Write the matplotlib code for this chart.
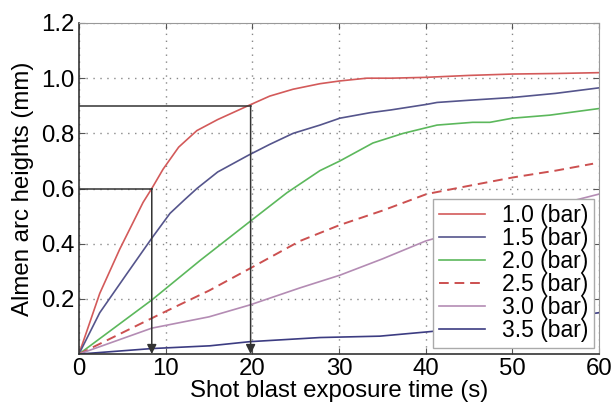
import matplotlib
matplotlib.use('Agg')
import matplotlib.pyplot as plt

plt.rcParams['font.family'] = ['Liberation Sans', 'DejaVu Sans']

# Almen arc height curves
t_10 = [0, 2.4, 4.7, 7.4, 8.4, 9.7, 11.5, 13.6, 16, 19.5, 22, 24.7, 27.8, 30.1, 33.2, 36, 40, 45, 50, 55, 60]
h_10 = [0, 0.22, 0.38, 0.55, 0.6, 0.67, 0.75, 0.81, 0.85, 0.9, 0.935, 0.96, 0.98, 0.99, 1.0, 1.0, 1.003, 1.01, 1.015, 1.017, 1.02]

t_15 = [0, 2.4, 5.5, 8.4, 10.5, 12.2, 13.6, 16, 19.5, 22, 24.7, 27.8, 30.1, 33.6, 36, 40.1, 41.3, 45, 50, 55, 60]
h_15 = [0, 0.15, 0.29, 0.42, 0.51, 0.56, 0.6, 0.66, 0.72, 0.76, 0.8, 0.83, 0.855, 0.875, 0.885, 0.905, 0.912, 0.92, 0.93, 0.945, 0.965]

t_20 = [0, 8.4, 14, 19.7, 24, 27.8, 30.1, 33.9, 37.4, 41.3, 45.4, 47.4, 50, 54.3, 60]
h_20 = [0, 0.196, 0.34, 0.48, 0.585, 0.665, 0.7, 0.765, 0.8, 0.83, 0.84, 0.84, 0.855, 0.866, 0.89]

t_25 = [0, 8.4, 9.7, 15, 19.7, 25.5, 30.1, 35, 40.1, 45, 50, 55, 59.3]
h_25 = [0, 0.13, 0.15, 0.23, 0.31, 0.41, 0.468, 0.52, 0.58, 0.61, 0.64, 0.665, 0.69]

t_30 = [0, 8.4, 15, 19.7, 25.5, 30.1, 35, 40, 50, 60]
h_30 = [0, 0.094, 0.135, 0.178, 0.24, 0.286, 0.345, 0.41, 0.5, 0.58]

t_35 = [0, 8.4, 15.1, 19.7, 27.8, 34.7, 40, 50, 60]
h_35 = [0, 0.02, 0.03, 0.045, 0.06, 0.065, 0.08, 0.11, 0.15]

series = [
    (t_10, h_10, '#d35a5a', '-', '1.0 (bar)'),
    (t_15, h_15, '#55558c', '-', '1.5 (bar)'),
    (t_20, h_20, '#5cb85c', '-', '2.0 (bar)'),
    (t_25, h_25, '#cc5050', '--', '2.5 (bar)'),
    (t_30, h_30, '#b48cb4', '-', '3.0 (bar)'),
    (t_35, h_35, '#3c3c82', '-', '3.5 (bar)'),
]

# reading guides (time, height)
guide_t = [8.4, 19.8]
guide_h = [0.6, 0.9]

FS = 17.3

fig = plt.figure(figsize=(6.12, 4.07), dpi=100)
ax = fig.add_axes([0.129, 0.130, 0.850, 0.8135])

for t, h, c, ls, lab in series:
    if ls == '--':
        ax.plot(t, h, color=c, ls=ls, lw=1.4, dashes=(5, 3), label=lab)
    else:
        ax.plot(t, h, color=c, ls=ls, lw=1.2, label=lab)

for gt, gh in zip(guide_t, guide_h):
    ax.plot([0, gt], [gh, gh], color='#333333', lw=1.1)
    ax.annotate('', xy=(gt, 0), xytext=(gt, gh),
                arrowprops=dict(arrowstyle='-|>', color='#333333', lw=1.1,
                                mutation_scale=14, shrinkA=0, shrinkB=0))

ax.set_xlim(0, 60)
ax.set_ylim(0, 1.2)
ax.set_xticks([0, 10, 20, 30, 40, 50, 60])
ax.set_yticks([0.2, 0.4, 0.6, 0.8, 1.0, 1.2])
ax.set_yticklabels(['0.2', '0.4', '0.6', '0.8', '1.0', '1.2'])
ax.grid(True, ls=(0, (1, 4)), color='#888888', lw=1.0)
ax.tick_params(direction='in', top=True, right=True, labelsize=FS, length=4,
               color='#555555', pad=3)
for s in ax.spines.values():
    s.set_color('#999999')
ax.spines['left'].set_color('#333333')
ax.spines['bottom'].set_color('#333333')
ax.spines['left'].set_linewidth(1.2)
ax.spines['bottom'].set_linewidth(1.2)

ax.set_xlabel('Shot blast exposure time (s)', fontsize=FS, labelpad=0)
ax.set_ylabel('Almen arc heights (mm)', fontsize=FS, labelpad=5)

leg = ax.legend(loc='lower right', bbox_to_anchor=(0.99, 0.018), borderaxespad=0,
                fontsize=16.5, handlelength=2.0, labelspacing=0,
                borderpad=0.25, fancybox=False, framealpha=1,
                edgecolor='#aaaaaa', handletextpad=0.75)
leg.get_frame().set_linewidth(1.0)

fig.savefig('out.png', dpi=100)
